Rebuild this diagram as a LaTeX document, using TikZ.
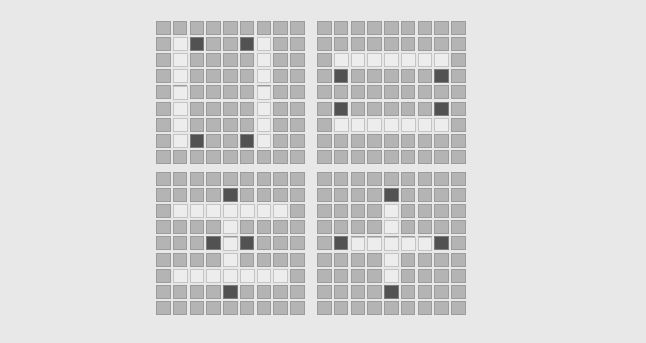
\documentclass[tikz,border=0pt]{standalone}
\definecolor{bg}{HTML}{E8E8E8}
\definecolor{cellg}{HTML}{B4B4B4}
\definecolor{celledge}{HTML}{9C9C9C}
\definecolor{celll}{HTML}{EDEDED}
\definecolor{celld}{HTML}{525252}
\tikzset{
  graycell/.style={fill=cellg,draw=celledge,line width=0.9pt},
  lightcell/.style={fill=celll,draw=celledge!60,line width=0.7pt},
  darkcell/.style={fill=celld,draw=celledge!80!black,line width=0.9pt}
}
% #1,#2 grid origin (px); #3 row; #4 col; #5 style
\newcommand\gcell[5]{\path[#5] ({#1+#4*16.75+0.5},{-(#2+#3*16.1+0.5)}) rectangle ++(13.6,-13);}
\begin{document}
\begin{tikzpicture}[x=1pt,y=1pt]
\fill[bg] (0,0) rectangle (646,-343);
\useasboundingbox (0,0) rectangle (646,-343);
% all gray cells
\foreach \gx/\gy in {156/21,317/21,156/172,317/172}{
  \foreach \r in {0,...,8}{
    \foreach \c in {0,...,8}{
      \gcell{\gx}{\gy}{\r}{\c}{graycell}
    }
  }
}
% grid 1 (top left)
\foreach \r in {1,...,7}{\gcell{156}{21}{\r}{1}{lightcell}\gcell{156}{21}{\r}{6}{lightcell}}
\foreach \r/\c in {1/2,1/5,7/2,7/5}{\gcell{156}{21}{\r}{\c}{darkcell}}
% grid 2 (top right)
\foreach \c in {1,...,7}{\gcell{317}{21}{2}{\c}{lightcell}\gcell{317}{21}{6}{\c}{lightcell}}
\foreach \r/\c in {3/1,3/7,5/1,5/7}{\gcell{317}{21}{\r}{\c}{darkcell}}
% grid 3 (bottom left)
\foreach \c in {1,...,7}{\gcell{156}{172}{2}{\c}{lightcell}\gcell{156}{172}{6}{\c}{lightcell}}
\foreach \r in {3,4,5}{\gcell{156}{172}{\r}{4}{lightcell}}
\foreach \r/\c in {1/4,4/3,4/5,7/4}{\gcell{156}{172}{\r}{\c}{darkcell}}
% grid 4 (bottom right)
\foreach \r in {2,3,5,6}{\gcell{317}{172}{\r}{4}{lightcell}}
\foreach \c in {2,...,6}{\gcell{317}{172}{4}{\c}{lightcell}}
\foreach \r/\c in {1/4,7/4,4/1,4/7}{\gcell{317}{172}{\r}{\c}{darkcell}}
\end{tikzpicture}
\end{document}
